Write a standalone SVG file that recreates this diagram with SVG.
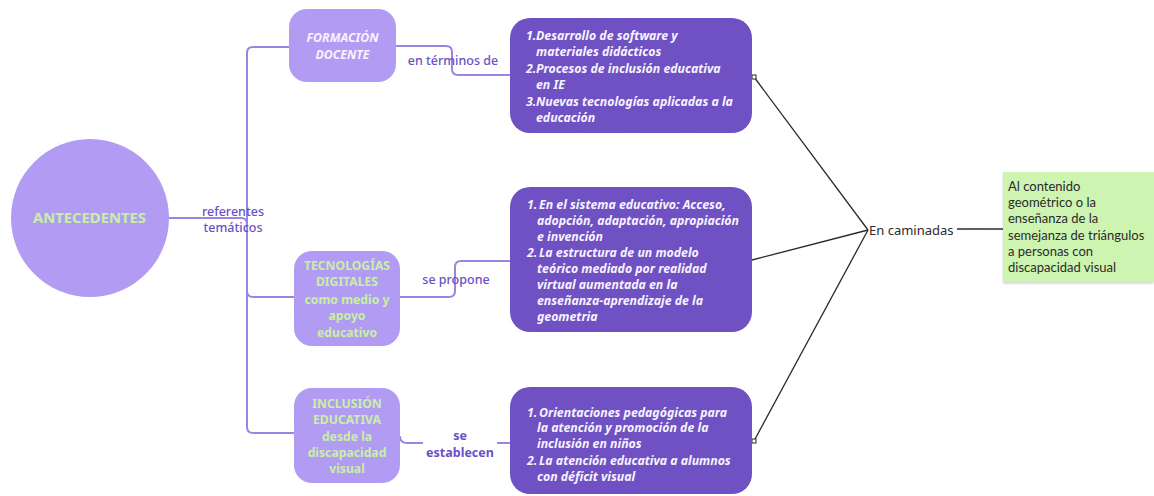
<svg xmlns="http://www.w3.org/2000/svg" width="1154" height="496" viewBox="0 0 1154 496">
  <defs>
    <pattern id="dots" x="1.6" y="1.5" width="9.4" height="9.4" patternUnits="userSpaceOnUse">
      <circle cx="0" cy="0" r="0.9" fill="#e4e4e8"/>
    </pattern>
    <filter id="shadow" x="-10%" y="-10%" width="120%" height="130%">
      <feDropShadow dx="0" dy="1.5" stdDeviation="1.2" flood-color="#000" flood-opacity="0.18"/>
    </filter>
    <style>
      .light { fill: #b29cf3; }
      .dark { fill: #6f51c3; }
      .branch { fill: none; stroke: #9c84e4; stroke-width: 2; }
      .link { fill: none; stroke: #2a2a2a; stroke-width: 1.3; }
      .end { fill: #fff; stroke: #2a2a2a; stroke-width: 1; }
      .lbl { font-family: "Noto Sans", "Open Sans", sans-serif; font-size: 12.5px; fill: #6a50c6; font-weight: 500; }
      .lblb { font-family: "Noto Sans", "Open Sans", sans-serif; font-size: 12.5px; fill: #6a50c6; font-weight: 700; }
      .head { font-family: "Noto Sans", "Open Sans", sans-serif; font-weight: 700; fill: #c8f0a3; text-anchor: middle; }
      .ital { font-family: "Noto Sans", "Open Sans", sans-serif; font-weight: 700; font-style: italic; fill: #f6f3ff; font-size: 12.3px; }
      .plain { font-family: "Noto Sans", "Open Sans", sans-serif; font-size: 13px; fill: #2b2b2b; }
      .note { font-family: Lato, "Liberation Sans", sans-serif; font-size: 13px; fill: #2b2b2b; }
    </style>
  </defs>

  <rect width="1154" height="496" fill="#ffffff"/>
  <rect width="1154" height="496" fill="url(#dots)"/>

  <!-- connectors -->
  <g id="connectors">
    <path class="branch" d="M169,218 H241 Q247,218 247,224"/>
    <path class="branch" d="M289,47 H253 Q247,47 247,53 V427 Q247,433 253,433 H294"/>
    <path class="branch" d="M247,291 Q247,297 253,297 H294"/>
    <path class="branch" d="M396,46 H446 Q452,46 452,52 V69 Q452,75 458,75 H510"/>
    <path class="branch" d="M400,297 H449 Q455,297 455,291 V267 Q455,261 461,261 H510"/>
    <path class="branch" d="M400,436 Q400,443 407,443 H423"/>
    <path class="branch" d="M497,443 H510"/>

    <path class="link" d="M754,77 L868,230"/>
    <path class="link" d="M752,260 L868,230"/>
    <path class="link" d="M754,441 L868,230"/>
    <path class="link" d="M957,229 H1004"/>
    <rect class="end" x="752" y="75" width="4" height="4"/>
    <rect class="end" x="752" y="439" width="4" height="4"/>

    <text class="lbl" x="233" y="215.5" text-anchor="middle">referentes</text>
    <text class="lbl" x="233" y="231.5" text-anchor="middle">temáticos</text>
    <text class="lbl" x="453" y="64.5" text-anchor="middle">en términos de</text>
    <text class="lbl" x="456" y="284" text-anchor="middle">se propone</text>
    <text class="lblb" x="460" y="440" text-anchor="middle">se</text>
    <text class="lblb" x="460" y="456.5" text-anchor="middle">establecen</text>
  </g>

  <!-- root -->
  <g id="antecedentes">
    <circle class="light" cx="90" cy="218" r="79"/>
    <text class="head" x="89.5" y="223" font-size="14.8">ANTECEDENTES</text>
  </g>

  <!-- topic nodes -->
  <g id="formacion-docente">
    <rect class="light" x="289" y="9" width="107" height="73" rx="18"/>
    <text class="ital" x="342.5" y="41.5" text-anchor="middle" font-size="12.5">FORMACIÓN</text>
    <text class="ital" x="342.5" y="58.5" text-anchor="middle" font-size="12.5">DOCENTE</text>
  </g>

  <g id="tecnologias-digitales">
    <rect class="light" x="294" y="251" width="106" height="95" rx="18"/>
    <text class="head" x="347" y="269.5" font-size="12.2">TECNOLOGÍAS</text>
    <text class="head" x="347" y="286" font-size="12.2">DIGITALES</text>
    <text class="head" x="347" y="303.5" font-size="12.2">como medio y</text>
    <text class="head" x="347" y="320" font-size="12.2">apoyo</text>
    <text class="head" x="347" y="336.5" font-size="12.2">educativo</text>
  </g>

  <g id="inclusion-educativa">
    <rect class="light" x="294" y="388" width="106" height="95" rx="18"/>
    <text class="head" x="347" y="407.5" font-size="12.2">INCLUSIÓN</text>
    <text class="head" x="347" y="424" font-size="12.2">EDUCATIVA</text>
    <text class="head" x="347" y="440.5" font-size="12.2">desde la</text>
    <text class="head" x="347" y="456.5" font-size="12.2">discapacidad</text>
    <text class="head" x="347" y="472.5" font-size="12.2">visual</text>
  </g>

  <!-- detail nodes -->
  <g id="detalle-formacion">
    <rect class="dark" x="510" y="18" width="242" height="115" rx="20"/>
    <text class="ital" x="526" y="39.5">1.</text>
    <text class="ital" x="536" y="39.5">Desarrollo de software y</text>
    <text class="ital" x="536" y="56">materiales didácticos</text>
    <text class="ital" x="526" y="72.5">2.</text>
    <text class="ital" x="536" y="72.5">Procesos de inclusión educativa</text>
    <text class="ital" x="536" y="89">en IE</text>
    <text class="ital" x="526" y="105.5">3.</text>
    <text class="ital" x="536" y="105.5">Nuevas tecnologías aplicadas a la</text>
    <text class="ital" x="536" y="122">educación</text>
  </g>

  <g id="detalle-tecnologias">
    <rect class="dark" x="510" y="187" width="242" height="145" rx="20"/>
    <text class="ital" x="527" y="208.5">1.</text>
    <text class="ital" x="539" y="208.5">En el sistema educativo: Acceso,</text>
    <text class="ital" x="537" y="224.5">adopción, adaptación, apropiación</text>
    <text class="ital" x="537" y="240.5">e invención</text>
    <text class="ital" x="527" y="256.5">2.</text>
    <text class="ital" x="539" y="256.5">La estructura de un modelo</text>
    <text class="ital" x="537" y="272.5">teórico mediado por realidad</text>
    <text class="ital" x="537" y="289">virtual aumentada en la</text>
    <text class="ital" x="537" y="305">enseñanza-aprendizaje de la</text>
    <text class="ital" x="537" y="321">geometria</text>
  </g>

  <g id="detalle-inclusion">
    <rect class="dark" x="510" y="387" width="242" height="107" rx="20"/>
    <text class="ital" x="527" y="416.5">1.</text>
    <text class="ital" x="539" y="416.5">Orientaciones pedagógicas para</text>
    <text class="ital" x="537" y="432">la atención y promoción de la</text>
    <text class="ital" x="537" y="448">inclusión en niños</text>
    <text class="ital" x="527" y="465">2.</text>
    <text class="ital" x="539" y="465">La atención educativa a alumnos</text>
    <text class="ital" x="537" y="481">con déficit visual</text>
  </g>

  <!-- convergence -->
  <g id="en-caminadas">
    <text class="plain" x="869" y="234.5" font-size="13.5">En caminadas</text>
  </g>

  <g id="contenido">
    <rect x="1003" y="172" width="151" height="110" fill="#cdf4b0" filter="url(#shadow)"/>
    <text class="note" x="1008" y="191">Al contenido</text>
    <text class="note" x="1008" y="207">geométrico o la</text>
    <text class="note" x="1008" y="223">enseñanza de la</text>
    <text class="note" x="1008" y="239.5">semejanza de triángulos</text>
    <text class="note" x="1008" y="256">a personas con</text>
    <text class="note" x="1008" y="272">discapacidad visual</text>
  </g>
</svg>
